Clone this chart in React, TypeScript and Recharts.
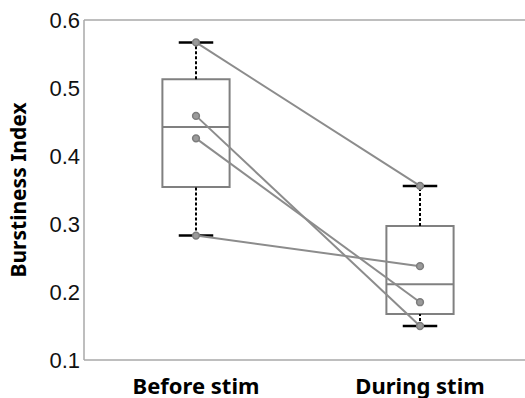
import { ComposedChart, Line, XAxis, YAxis, ReferenceArea, ReferenceLine } from 'recharts';

const categories = ['Before stim', 'During stim'];
// one value per subject, same order in both groups
const beforeStim = [0.567, 0.459, 0.426, 0.283];
const duringStim = [0.356, 0.15, 0.185, 0.238];
const yTicks = [0.1, 0.2, 0.3, 0.4, 0.5, 0.6];

const AXIS = '#a8a8a8';
const BOX = '#808080';
const PAIR = '#8c8c8c';

// percentile the way MATLAB's boxplot computes it
function quantile(values: number[], p: number): number {
  const s = [...values].sort((a, b) => a - b);
  const pos = p * s.length - 0.5;
  if (pos <= 0) return s[0];
  if (pos >= s.length - 1) return s[s.length - 1];
  const lo = Math.floor(pos);
  return s[lo] + (pos - lo) * (s[lo + 1] - s[lo]);
}

const groups = [beforeStim, duringStim];

const rows = groups.map((vals, i) => {
  const r: Record<string, number> = { x: i + 1 };
  vals.forEach((v, j) => (r['s' + j] = v));
  return r;
});

const boxes = groups.map((vals, i) => ({
  x: i + 1,
  min: Math.min(...vals),
  q1: quantile(vals, 0.25),
  med: quantile(vals, 0.5),
  q3: quantile(vals, 0.75),
  max: Math.max(...vals),
}));

const BOX_HALF = 0.15;
const CAP_HALF = 0.077;

export default function App() {
  return (
    <div style={{ position: 'absolute', left: 0, top: 0, width: 525, height: 398, overflow: 'hidden', background: '#fff' }}>
      <ComposedChart width={534} height={398} data={rows} margin={{ top: 0, right: 2, bottom: 0, left: 0 }}>
        <XAxis
          xAxisId="top"
          orientation="top"
          dataKey="x"
          type="number"
          domain={[0.5, 2.5]}
          height={20}
          tick={false}
          tickLine={false}
          axisLine={{ stroke: AXIS, strokeWidth: 1.5 }}
        />
        <XAxis
          dataKey="x"
          type="number"
          domain={[0.5, 2.5]}
          ticks={[1, 2]}
          tickFormatter={(v: number) => categories[v - 1]}
          height={38}
          tickLine={false}
          tickSize={0}
          tickMargin={18}
          axisLine={{ stroke: AXIS, strokeWidth: 1.5 }}
          tick={{ fontFamily: 'Noto Sans', fontWeight: 700, fontSize: 22, fill: '#000' }}
        />
        <YAxis
          type="number"
          domain={[0.1, 0.6]}
          ticks={yTicks}
          tickFormatter={(v: number) => v.toFixed(1)}
          width={84}
          tickLine={false}
          tickSize={0}
          tickMargin={4}
          axisLine={{ stroke: AXIS, strokeWidth: 1.5 }}
          tick={{ fontFamily: 'Liberation Sans', fontSize: 22, fill: '#111' }}
          label={{
            value: 'Burstiness Index',
            angle: -90,
            position: 'insideLeft',
            offset: 19,
            style: { textAnchor: 'middle', fontFamily: 'Noto Sans', fontWeight: 700, fontSize: 21, fill: '#000' },
          }}
        />
        <YAxis
          yAxisId="right"
          orientation="right"
          type="number"
          domain={[0.1, 0.6]}
          ticks={yTicks}
          width={0}
          mirror
          tickSize={5}
          tickLine={{ stroke: '#777' }}
          axisLine={{ stroke: AXIS, strokeWidth: 1.5 }}
          tick={() => <g />}
        />

        {boxes.map((b) => (
          <ReferenceArea
            key={'box' + b.x}
            x1={b.x - BOX_HALF}
            x2={b.x + BOX_HALF}
            y1={b.q1}
            y2={b.q3}
            fill="#fff"
            fillOpacity={0}
            stroke={BOX}
            strokeWidth={2}
          />
        ))}
        {boxes.map((b) => (
          <ReferenceLine
            key={'med' + b.x}
            segment={[{ x: b.x - BOX_HALF, y: b.med }, { x: b.x + BOX_HALF, y: b.med }]}
            stroke={BOX}
            strokeWidth={2}
          />
        ))}
        {boxes.map((b) => (
          <ReferenceLine
            key={'wu' + b.x}
            segment={[{ x: b.x, y: b.q3 }, { x: b.x, y: b.max }]}
            stroke="#000"
            strokeWidth={2}
            strokeDasharray="3 2"
          />
        ))}
        {boxes.map((b) => (
          <ReferenceLine
            key={'wl' + b.x}
            segment={[{ x: b.x, y: b.min }, { x: b.x, y: b.q1 }]}
            stroke="#000"
            strokeWidth={2}
            strokeDasharray="3 2"
          />
        ))}
        {boxes.map((b) => (
          <ReferenceLine
            key={'cu' + b.x}
            segment={[{ x: b.x - CAP_HALF, y: b.max }, { x: b.x + CAP_HALF, y: b.max }]}
            stroke="#000"
            strokeWidth={2.5}
          />
        ))}
        {boxes.map((b) => (
          <ReferenceLine
            key={'cl' + b.x}
            segment={[{ x: b.x - CAP_HALF, y: b.min }, { x: b.x + CAP_HALF, y: b.min }]}
            stroke="#000"
            strokeWidth={2.5}
          />
        ))}

        {beforeStim.map((_, j) => (
          <Line
            key={'s' + j}
            dataKey={'s' + j}
            type="linear"
            stroke={PAIR}
            strokeWidth={2}
            dot={{ r: 3.4, fill: '#9a9a9a', stroke: '#7c7c7c', strokeWidth: 1.5 }}
            activeDot={false}
            isAnimationActive={false}
          />
        ))}
      </ComposedChart>
    </div>
  );
}
